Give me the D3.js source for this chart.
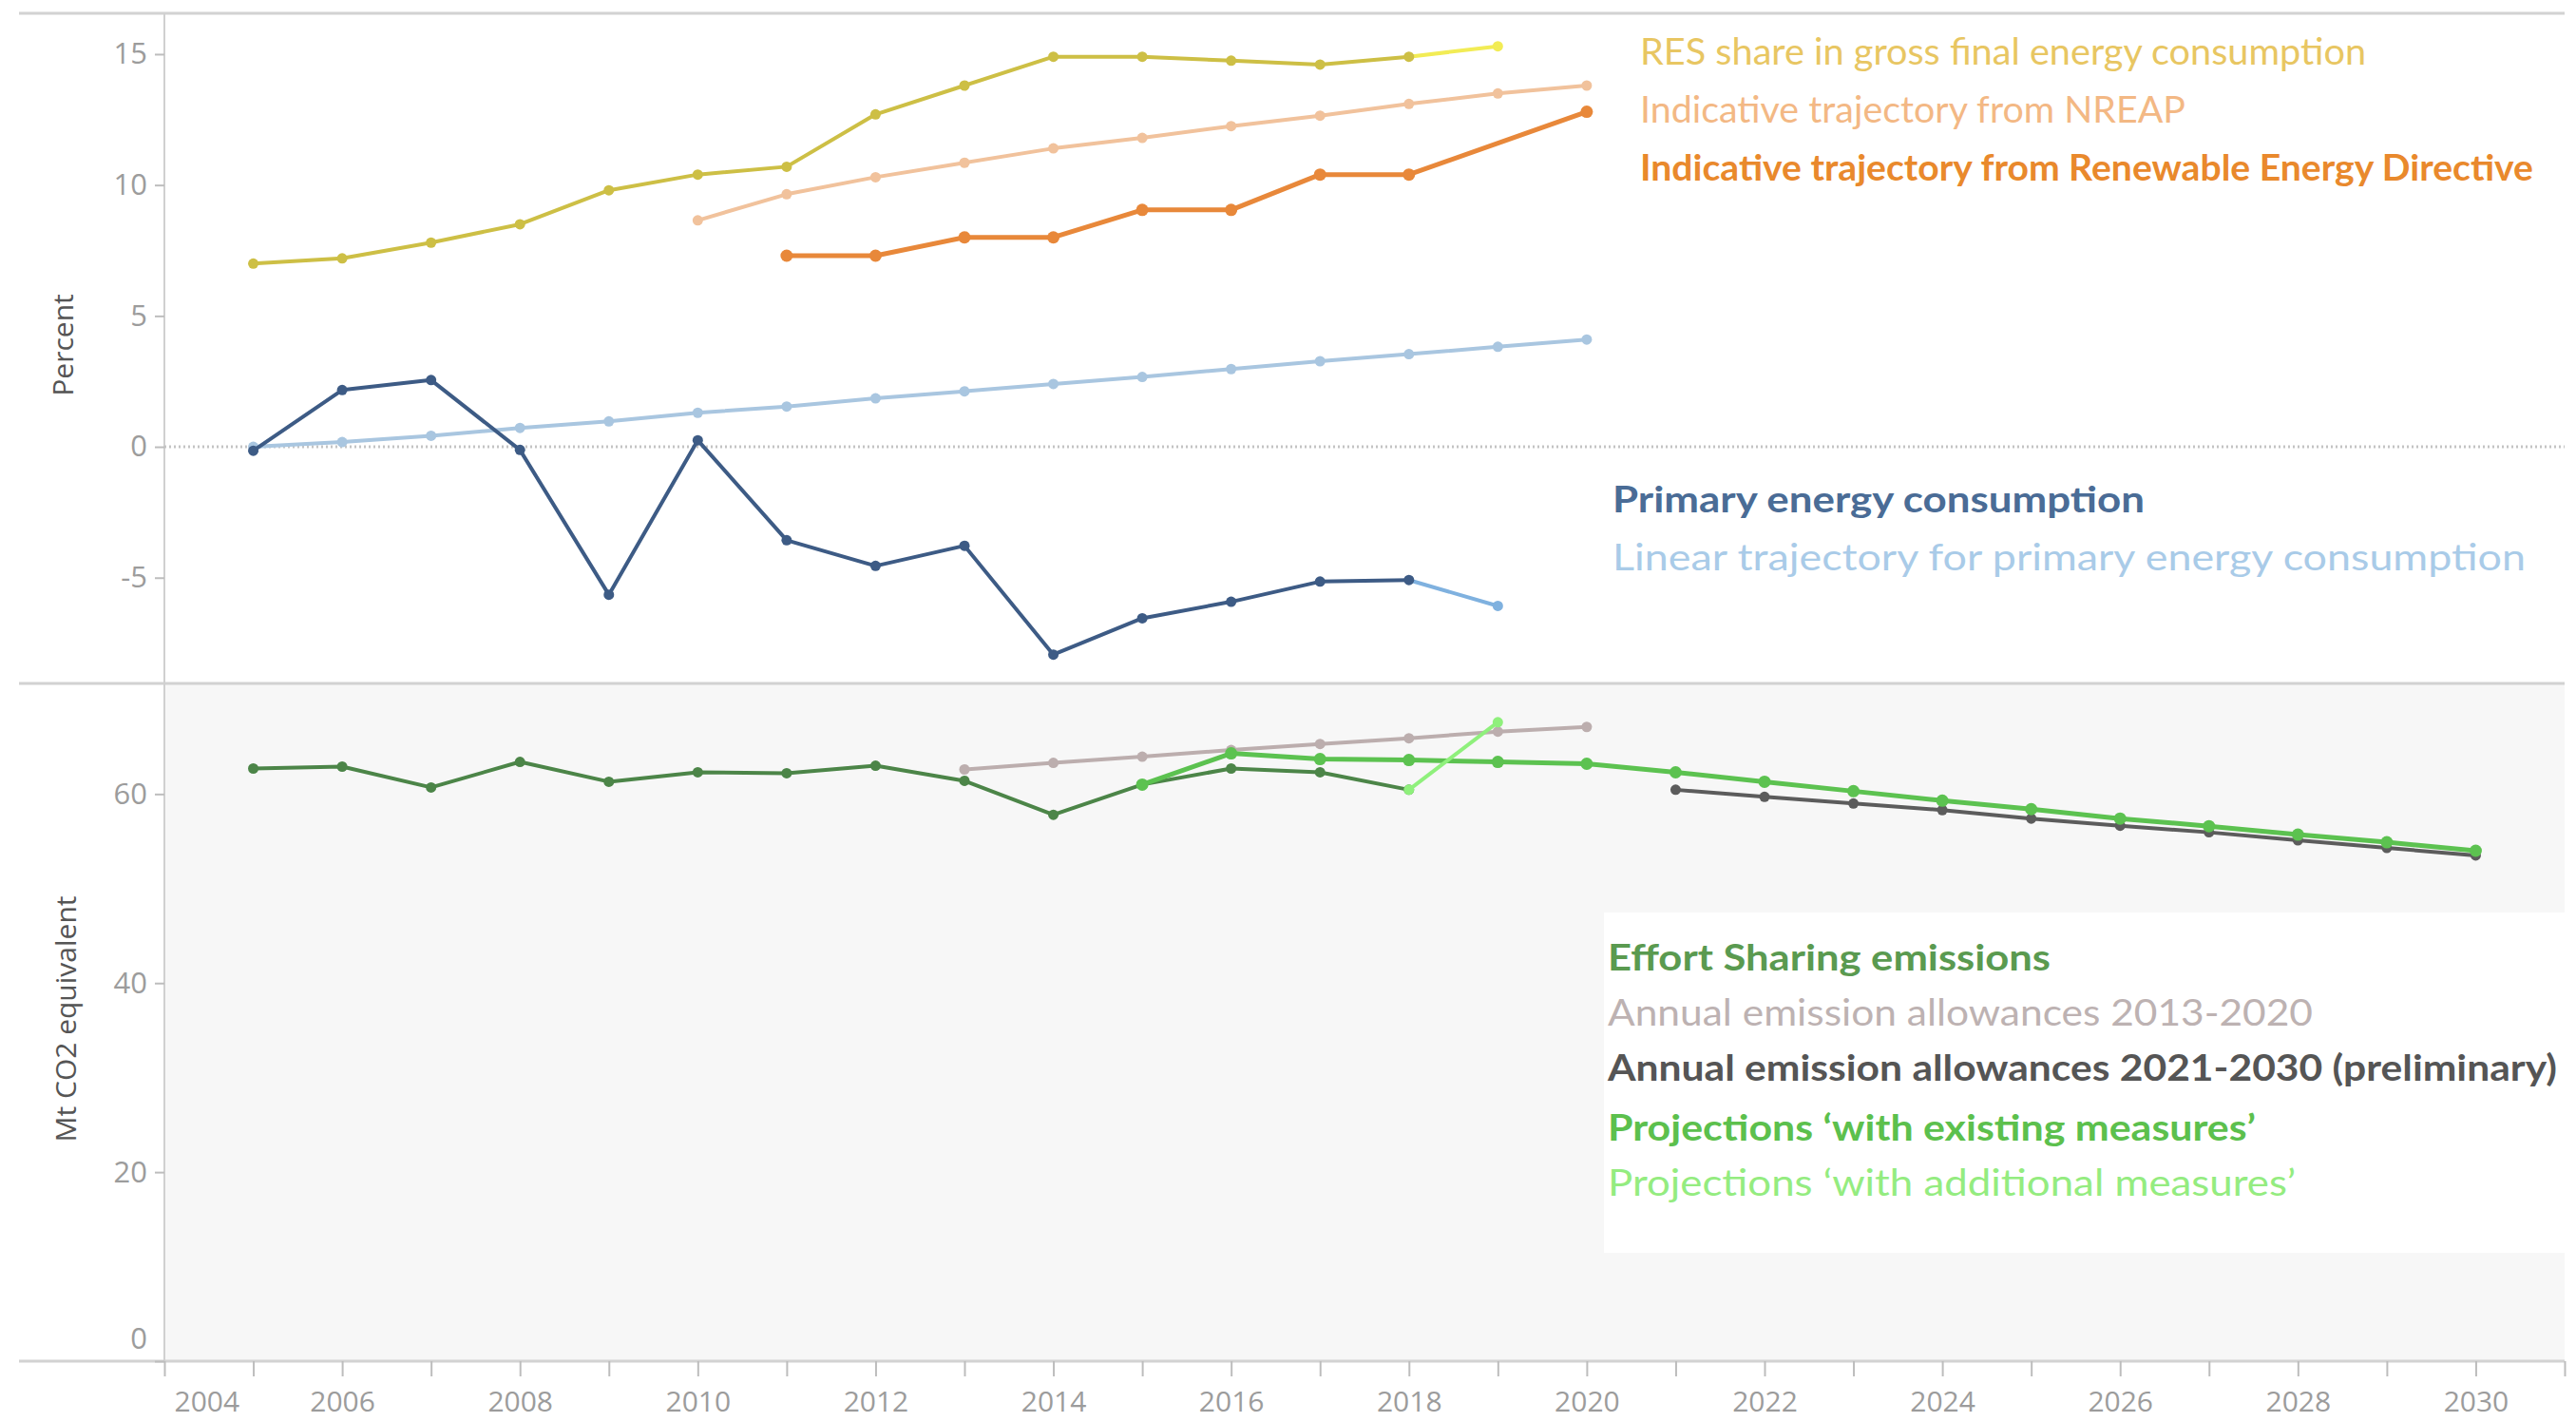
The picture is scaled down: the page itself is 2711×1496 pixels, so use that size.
<!DOCTYPE html>
<html>
<head>
<meta charset="utf-8">
<script src="https://cdn.jsdelivr.net/npm/d3@7"></script>
<style>
  body { margin: 0; background: #fff; }
  svg { display: block; }
  .tick text { font-family: "Open Sans", sans-serif; fill: #9c9c9c; }
  .legend { font-family: Lato, "Open Sans", sans-serif; }
</style>
</head>
<body>
<svg id="chart"></svg>
<script>
'use strict';

// --- data ---
var resYears = d3.range(2005, 2020);
var resShare = [7.0, 7.2, 7.8, 8.5, 9.8, 10.4, 10.7, 12.7, 13.8, 14.9, 14.9, 14.75, 14.6, 14.9, 15.3];

var nreapYears = d3.range(2010, 2021);
var nreap = [8.65, 9.65, 10.3, 10.85, 11.4, 11.8, 12.25, 12.65, 13.1, 13.5, 13.8];

var redYears = [2011, 2012, 2013, 2014, 2015, 2016, 2017, 2018, 2020];
var red = [7.3, 7.3, 8.0, 8.0, 9.05, 9.05, 10.4, 10.4, 12.8];

var pecYears = d3.range(2005, 2020);
var pec = [-0.15, 2.17, 2.55, -0.12, -5.65, 0.25, -3.57, -4.55, -3.78, -7.94, -6.55, -5.92, -5.15, -5.09, -6.08];

var linYears = d3.range(2005, 2021);
var lin = [0, 0.18, 0.42, 0.72, 0.97, 1.3, 1.54, 1.85, 2.12, 2.4, 2.67, 2.97, 3.27, 3.54, 3.82, 4.1];

var esdYears = d3.range(2005, 2019);
var esd = [62.7, 62.9, 60.7, 63.4, 61.3, 62.3, 62.2, 63.0, 61.4, 57.8, 61.0, 62.7, 62.3, 60.45];

var aea1Years = d3.range(2013, 2021);
var aea1 = [62.6, 63.3, 63.95, 64.65, 65.3, 65.9, 66.6, 67.1];

var aea2Years = d3.range(2021, 2031);
var aea2 = [60.45, 59.7, 59.0, 58.3, 57.4, 56.65, 55.95, 55.1, 54.3, 53.5];

var wemYears = d3.range(2015, 2031);
var wem = [61.0, 64.3, 63.7, 63.6, 63.4, 63.2, 62.3, 61.3, 60.3, 59.3, 58.4, 57.4, 56.6, 55.7, 54.9, 54.0];

var wamYears = [2018, 2019];
var wam = [60.45, 67.6];

var topTicks = [-5, 0, 5, 10, 15];
var bottomTicks = [0, 20, 40, 60];
var xTickYears = d3.range(2004, 2032);

var topLegend = [
  'RES share in gross final energy consumption',
  'Indicative trajectory from NREAP',
  'Indicative trajectory from Renewable Energy Directive'
];
var pecLegend = [
  'Primary energy consumption',
  'Linear trajectory for primary energy consumption'
];
var ghgLegend = [
  'Effort Sharing emissions',
  'Annual emission allowances 2013-2020',
  'Annual emission allowances 2021-2030 (preliminary)',
  'Projections \u2018with existing measures\u2019',
  'Projections \u2018with additional measures\u2019'
];

// --- layout ---
var W = 2711, H = 1496;
var left = 173, right = 2699, edge = 20;
var topY = 14, sepY = 719, baseY = 1432;

var svg = d3.select('#chart').attr('width', W).attr('height', H);

var x = d3.scaleLinear().domain([2004, 2031]).range([left, right]);
var yTop = d3.scaleLinear().domain([-9.04, 16.56]).range([sepY, topY]);
var yBot = d3.scaleLinear().domain([0, 71.7]).range([baseY, sepY]);

// bottom panel background
svg.append('rect')
  .attr('x', left).attr('y', sepY)
  .attr('width', right - left).attr('height', baseY - sepY)
  .attr('fill', '#f7f7f7');

// frame lines
[topY, sepY, baseY].forEach(function (yy) {
  svg.append('line')
    .attr('x1', edge).attr('x2', right)
    .attr('y1', yy).attr('y2', yy)
    .attr('stroke', '#d2d2d2').attr('stroke-width', 3);
});
svg.append('line')
  .attr('x1', left).attr('x2', left)
  .attr('y1', topY).attr('y2', baseY)
  .attr('stroke', '#d0d0d0').attr('stroke-width', 2);

// zero line (dotted)
svg.append('line')
  .attr('x1', left).attr('x2', right)
  .attr('y1', yTop(0)).attr('y2', yTop(0))
  .attr('stroke', '#c4c4c4').attr('stroke-width', 3)
  .attr('stroke-dasharray', '2,3');

// axes
function styleAxis(g) {
  g.select('.domain').remove();
  g.selectAll('.tick line').attr('stroke', '#bdbdbd').attr('stroke-width', 2);
}

svg.append('g')
  .attr('transform', 'translate(' + left + ',0)')
  .call(d3.axisLeft(yTop).tickValues(topTicks).tickSize(10).tickPadding(8)
    .tickFormat(function (d) { return String(d); }))
  .call(styleAxis)
  .selectAll('text').attr('font-size', 31);

var gb = svg.append('g')
  .attr('transform', 'translate(' + left + ',0)')
  .call(d3.axisLeft(yBot).tickValues(bottomTicks).tickSize(10).tickPadding(8))
  .call(styleAxis);
gb.selectAll('text').attr('font-size', 31)
  .attr('dy', function (d) { return d === 0 ? '-0.45em' : '0.32em'; });

var gx = svg.append('g')
  .attr('transform', 'translate(0,' + baseY + ')')
  .call(d3.axisBottom(x).tickValues(xTickYears).tickSize(16).tickPadding(16)
    .tickFormat(function (d) { return (d % 2 === 0 && d <= 2030) ? d : ''; }))
  .call(styleAxis);
gx.selectAll('text').attr('font-size', 30)
  .attr('text-anchor', function (d) { return d === 2004 ? 'start' : 'middle'; })
  .attr('x', function (d) { return d === 2004 ? 10 : 0; });

// axis titles
svg.append('text')
  .attr('transform', 'translate(66,' + 363 + ') rotate(-90)')
  .attr('text-anchor', 'middle').attr('dy', '0.35em')
  .attr('font-family', '"Open Sans", sans-serif').attr('font-size', 30)
  .attr('fill', '#555').text('Percent');
svg.append('text')
  .attr('transform', 'translate(69,' + 1072 + ') rotate(-90)')
  .attr('text-anchor', 'middle').attr('dy', '0.35em')
  .attr('font-family', '"Open Sans", sans-serif').attr('font-size', 30)
  .attr('fill', '#555').text('Mt CO2 equivalent');

// series
function drawSeries(yScale, years, values, color, width, lastColor) {
  var pts = years.map(function (yr, i) { return [yr, values[i]]; });
  var line = d3.line()
    .x(function (d) { return x(d[0]); })
    .y(function (d) { return yScale(d[1]); });
  var g = svg.append('g');
  var main = lastColor ? pts.slice(0, -1) : pts;
  g.append('path').attr('d', line(main))
    .attr('fill', 'none').attr('stroke', color)
    .attr('stroke-width', width).attr('stroke-linejoin', 'round');
  if (lastColor) {
    g.append('path').attr('d', line(pts.slice(-2)))
      .attr('fill', 'none').attr('stroke', lastColor)
      .attr('stroke-width', width).attr('stroke-linecap', 'round');
  }
  g.selectAll('circle').data(pts).enter().append('circle')
    .attr('cx', function (d) { return x(d[0]); })
    .attr('cy', function (d) { return yScale(d[1]); })
    .attr('r', width + 1.5)
    .attr('fill', function (d, i) {
      return (lastColor && i === pts.length - 1) ? lastColor : color;
    });
}

drawSeries(yTop, linYears, lin, '#a9c6e0', 4);
drawSeries(yTop, pecYears, pec, '#3d5b85', 4, '#7fb1df');
drawSeries(yTop, nreapYears, nreap, '#f1c29c', 4);
drawSeries(yTop, redYears, red, '#e8883a', 5);
drawSeries(yTop, resYears, resShare, '#cdbf45', 4, '#f2ec55');

drawSeries(yBot, aea1Years, aea1, '#bcaeae', 4);
drawSeries(yBot, aea2Years, aea2, '#5c5c5c', 4);
drawSeries(yBot, esdYears, esd, '#4c8548', 4);
drawSeries(yBot, wemYears, wem, '#5cc250', 5);
drawSeries(yBot, wamYears, wam, '#8ff07c', 4);

// legends
function legend(items, x0, ys, colors, weights, lengths) {
  items.forEach(function (t, i) {
    svg.append('text').attr('class', 'legend')
      .attr('x', x0).attr('y', ys[i]).attr('dy', '0.35em')
      .attr('font-size', 38)
      .attr('font-weight', weights[i])
      .attr('fill', colors[i])
      .attr('textLength', lengths[i])
      .attr('lengthAdjust', 'spacingAndGlyphs')
      .text(t);
  });
}

legend(topLegend, 1726, [55, 116, 177],
  ['#e8c662', '#f3b884', '#e9892c'], [400, 400, 700], [764, 574, 940]);
legend(pecLegend, 1697, [526, 587],
  ['#4a6c96', '#a9cbe8'], [700, 400], [560, 961]);

svg.append('rect')
  .attr('x', 1688).attr('y', 960).attr('width', 1012).attr('height', 358)
  .attr('fill', '#fff');
legend(ghgLegend, 1692, [1008, 1066, 1124, 1187, 1245],
  ['#5a9a50', '#bdb2b2', '#555555', '#5cc04d', '#94ec80'],
  [700, 400, 700, 700, 400], [466, 742, 999, 682, 724]);
</script>
</body>
</html>
